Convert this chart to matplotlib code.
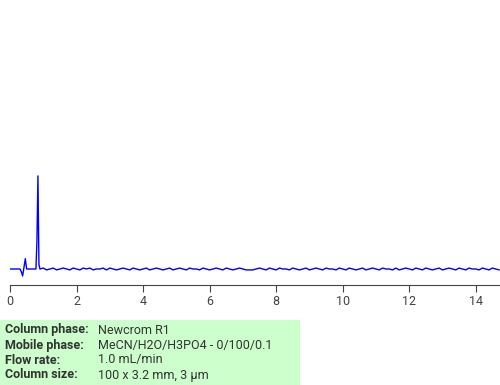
import matplotlib.pyplot as plt
from matplotlib.patches import Rectangle

plt.rcParams['font.family'] = ['Roboto', 'DejaVu Sans']

# chromatogram (signal scaled so main peak = 1)
peak_t = [0.0, 0.30, 0.34, 0.38, 0.42, 0.46, 0.50, 0.54, 0.78, 0.81, 0.84, 0.87, 0.90]
peak_y = [0.0, 0.0, -0.03, -0.075, 0.02, 0.11, 0.0, 0.0, 0.0, 0.3, 1.0, 0.05, 0.0]

# small baseline wiggle after the peak, one value every 0.1 min from 1.0
noise = [0.01, -0.01, 0.0, 0.01, -0.01, 0.0, 0.01, 0.0, -0.01, 0.01,
         0.0, -0.01, 0.01, 0.0, 0.01, -0.01, 0.0, 0.0, 0.01, -0.01,
         0.01, 0.0, -0.01, 0.0, 0.01, 0.0, -0.01, 0.01, 0.0, -0.01,
         0.0, 0.01, -0.01, 0.0, 0.01, 0.0, -0.01, 0.0, 0.01, -0.01,
         0.0, 0.01, 0.0, -0.01, 0.01, 0.0, 0.0, -0.01, 0.01, 0.0,
         -0.01, 0.0, 0.01, 0.0, -0.01, 0.01, 0.0, -0.01, 0.0, 0.01,
         0.0, -0.01, -0.01, -0.01, 0.0, 0.01, 0.0, -0.01, 0.01, 0.0,
         -0.01, 0.01, 0.0, 0.0, -0.01, 0.01, 0.0, -0.01, 0.0, 0.01,
         -0.01, 0.0, 0.01, 0.0, -0.01, 0.01, 0.0, 0.0, -0.01, 0.01,
         0.0, -0.01, 0.01, 0.0, -0.01, 0.0, 0.01, -0.01, 0.0, 0.01,
         0.0, -0.01, 0.01, 0.0, 0.0, -0.01, 0.01, -0.01, 0.0, 0.01,
         0.0, -0.01, 0.01, 0.0, -0.01, 0.01, 0.0, -0.01, 0.0, 0.01,
         -0.01, 0.0, 0.01, 0.0, -0.01, 0.01, 0.0, -0.01, 0.01, 0.0,
         0.0, -0.01, 0.01, 0.0, -0.01, 0.01, 0.0, -0.01]
noise_t = [1.0 + 0.1 * i for i in range(len(noise))]

t = peak_t + noise_t
y = peak_y + noise

ticks = [0, 2, 4, 6, 8, 10, 12, 14]

info_labels = ["Column phase:", "Mobile phase:", "Flow rate:", "Column size:"]
info_values = ["Newcrom R1", "MeCN/H2O/H3PO4 - 0/100/0.1", "1.0 mL/min", "100 x 3.2 mm, 3 µm"]

fig = plt.figure(figsize=(5, 3.85), dpi=100)
ax = fig.add_axes([0.02, 1 - 285 / 385, 0.98, 285 / 385])
ax.plot(t, y, color="#0000ff", lw=1)
ax.set_xlim(0, 14.73)
ax.set_ylim(-0.172, 2.89)
ax.set_xticks(ticks)
ax.set_yticks([])
for s in ["top", "left", "right"]:
    ax.spines[s].set_visible(False)
ax.spines["bottom"].set_color("#444444")
ax.tick_params(axis="x", colors="#444444", labelsize=9, length=5, pad=2)
ax.patch.set_alpha(0)

fig.patches.append(Rectangle((0, 0), 300 / 500, 65 / 385, transform=fig.transFigure,
                             facecolor="#ccffcc", edgecolor="none"))
for i, (lab, val) in enumerate(zip(info_labels, info_values)):
    yy = 1 - (330 + 15 * i) / 385
    fig.text(5 / 500, yy, lab, fontsize=9, fontweight="bold", color="#333333", va="center")
    fig.text(98 / 500, yy, val, fontsize=9, color="#333333", va="center")

fig.savefig("out.png", dpi=100)
